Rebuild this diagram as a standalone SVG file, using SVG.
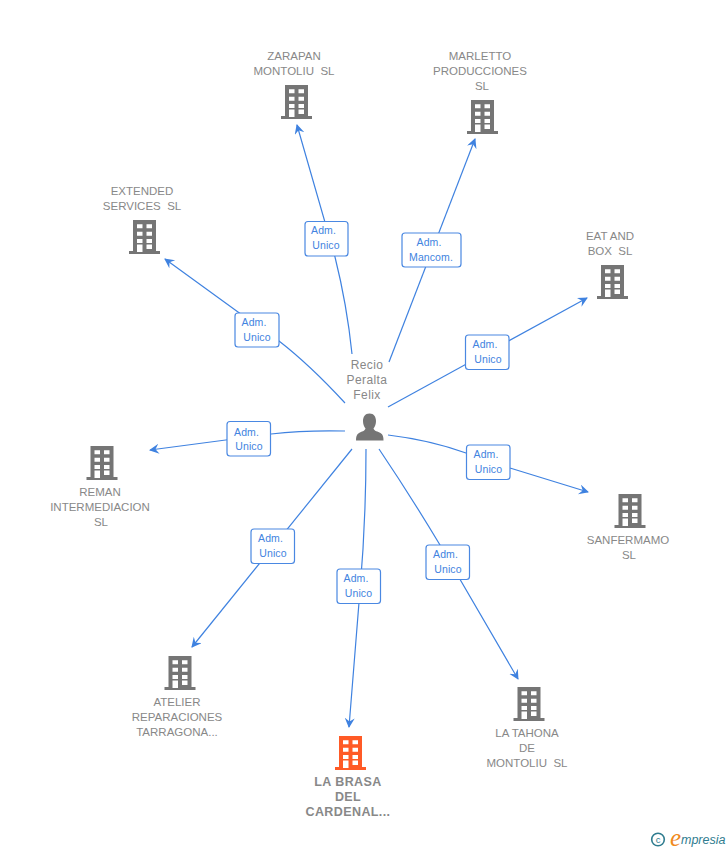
<svg xmlns="http://www.w3.org/2000/svg" width="728" height="850" viewBox="0 0 728 850">
<style>
.n{font:11.5px "Liberation Sans",Arial,sans-serif;fill:#888;text-anchor:middle;letter-spacing:0;white-space:pre}
.b{font-weight:bold;font-size:12.5px;letter-spacing:.4px}
.p{font-size:12px;letter-spacing:.4px}
.l{font:10.5px "Liberation Sans",Arial,sans-serif;fill:#4283e0;text-anchor:middle;letter-spacing:.1px}
.box{fill:#fff;stroke:#4a88e2;stroke-width:1.2}
.c path{fill:none;stroke:#3f82e0;stroke-width:1.2;marker-end:url(#a)}
.bg{fill:#757575}.or{fill:#ff5a26}.w{fill:#fff}
</style>
<defs>
<marker id="a" markerUnits="userSpaceOnUse" markerWidth="12" markerHeight="12" refX="9" refY="5" orient="auto"><path d="M0 0L10 5L0 10L3.500 5Z" fill="#3f82e0"/></marker>
<g id="bld"><path d="M-11.500 0H11.500V31H15.500V34H-15.500V31H-11.500Z"/><path class="w" d="M-7.500 4.300H-2V8.300H-7.500ZM2 4.300H7.500V8.300H2ZM-7.500 11.700H-2V15.700H-7.500ZM2 11.700H7.500V15.700H2ZM-7.500 19H-2V23H-7.500ZM2 19H7.500V23H2ZM-7.500 24.500H-2V32H-7.500ZM2 24.500H7.500V29H2Z"/></g>
</defs>
<g class="c">
<path d="M352 354Q347 305 335 257L297 125"/>
<path d="M389 362L475 139"/>
<path d="M345 403Q310 365 279 341L238 312L165 259"/>
<path d="M388 407L587 298"/>
<path d="M345 431Q305 430 271 434L150 450"/>
<path d="M388 435Q430 440 466 453L510 468L588 492"/>
<path d="M352 449L192 647"/>
<path d="M366 449Q366 520 360 590L349 727"/>
<path d="M379 449Q410 495 440 545L518 679"/>
</g>
<g id="edge-labels">
<g><rect class="box" x="305" y="221.500" width="43" height="34.500" rx="3"/><text class="l" x="323.500" y="234">Adm.</text><text class="l" x="326" y="249">Unico</text></g>
<g><rect class="box" x="402" y="233" width="59" height="34" rx="3"/><text class="l" x="429" y="246">Adm.</text><text class="l" x="431" y="261">Mancom.</text></g>
<g><rect class="box" x="235" y="313" width="44" height="34" rx="3"/><text class="l" x="254" y="326">Adm.</text><text class="l" x="257" y="341">Unico</text></g>
<g><rect class="box" x="465.500" y="335" width="43.500" height="34.500" rx="3"/><text class="l" x="485" y="348">Adm.</text><text class="l" x="488" y="363">Unico</text></g>
<g><rect class="box" x="227" y="421.500" width="43.500" height="34.500" rx="3"/><text class="l" x="246.500" y="436">Adm.</text><text class="l" x="249" y="450">Unico</text></g>
<g><rect class="box" x="466.500" y="445" width="43.500" height="34.500" rx="3"/><text class="l" x="486" y="458">Adm.</text><text class="l" x="488.500" y="473">Unico</text></g>
<g><rect class="box" x="251" y="529" width="43.500" height="34.500" rx="3"/><text class="l" x="270.500" y="542">Adm.</text><text class="l" x="273" y="557">Unico</text></g>
<g><rect class="box" x="337" y="569" width="43.500" height="34.500" rx="3"/><text class="l" x="356" y="582">Adm.</text><text class="l" x="358.500" y="597">Unico</text></g>
<g><rect class="box" x="426" y="545" width="43.500" height="34.500" rx="3"/><text class="l" x="445.500" y="558">Adm.</text><text class="l" x="448" y="573">Unico</text></g>
</g>
<g id="person"><text class="n p" x="367" y="369">Recio</text><text class="n p" x="367" y="384">Peralta</text><text class="n p" x="367" y="399">Felix</text><path class="bg" d="M369.500 413.500C374 413.500 376 417 376 421C376 424.500 375 426.500 373.500 428.500C374 431 378 431.500 380.500 433C383 434.500 383.500 437 383.500 440.500H356C356 437 356.500 434.500 359 433C361.500 431.500 365 431 365.500 428.500C364 426.500 363 424.500 363 421C363 417 365 413.500 369.500 413.500Z"/></g>
<g id="zarapan"><text class="n" x="294" y="60">ZARAPAN</text><text class="n" x="294" y="75">MONTOLIU  SL</text><use class="bg" href="#bld" x="296.500" y="85"/></g>
<g id="marletto"><text class="n" x="480" y="60">MARLETTO</text><text class="n" x="480" y="75">PRODUCCIONES</text><text class="n" x="482" y="90">SL</text><use class="bg" href="#bld" x="482.500" y="100"/></g>
<g id="extended"><text class="n" x="142" y="195">EXTENDED</text><text class="n" x="142" y="210">SERVICES  SL</text><use class="bg" href="#bld" x="144.500" y="220"/></g>
<g id="eat"><text class="n" x="610" y="240">EAT AND</text><text class="n" x="610" y="255">BOX  SL</text><use class="bg" href="#bld" x="612.500" y="265"/></g>
<g id="reman"><use class="bg" href="#bld" x="102" y="446"/><text class="n" x="100" y="496">REMAN</text><text class="n" x="100" y="511">INTERMEDIACION</text><text class="n" x="101" y="526">SL</text></g>
<g id="sanfermamo"><use class="bg" href="#bld" x="630" y="494"/><text class="n" x="628" y="544">SANFERMAMO</text><text class="n" x="629" y="559">SL</text></g>
<g id="atelier"><use class="bg" href="#bld" x="180" y="656"/><text class="n" x="177" y="706">ATELIER</text><text class="n" x="177" y="721">REPARACIONES</text><text class="n" x="177" y="736">TARRAGONA...</text></g>
<g id="tahona"><use class="bg" href="#bld" x="529" y="687"/><text class="n" x="527" y="737">LA TAHONA</text><text class="n" x="527" y="752">DE</text><text class="n" x="527" y="767">MONTOLIU  SL</text></g>
<g id="brasa"><use class="or" href="#bld" x="350.500" y="736"/><text class="n b" x="348" y="786">LA BRASA</text><text class="n b" x="348" y="801">DEL</text><text class="n b" x="348" y="816">CARDENAL...</text></g>
<g id="logo"><circle cx="658" cy="839.500" r="6.300" fill="none" stroke="#2f7c8f" stroke-width="1.600"/><text x="658" y="843" font-family="Liberation Sans,sans-serif" font-size="9.500" fill="#2f7c8f" text-anchor="middle">c</text><text x="670" y="846" font-family="Liberation Serif,serif" font-style="italic" font-size="25" fill="#f08a1d">e</text><text x="681" y="844" font-family="Liberation Sans,sans-serif" font-style="italic" font-size="12.500" fill="#2f7c8f">mpresia</text></g>
</svg>
